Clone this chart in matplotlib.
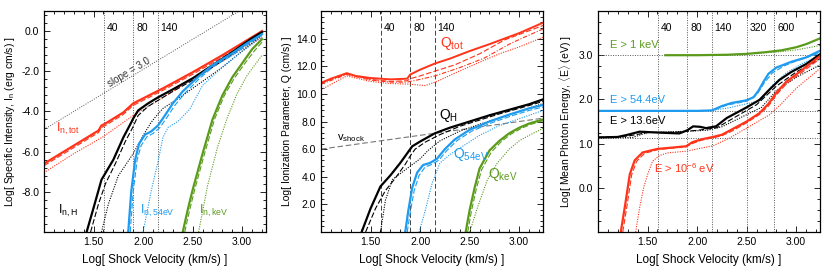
import matplotlib
matplotlib.use('Agg')
import matplotlib.pyplot as plt
from matplotlib.ticker import MultipleLocator, FixedLocator
import matplotlib.transforms as mtransforms

plt.rcParams['font.family'] = ['Liberation Sans', 'DejaVu Sans']
plt.rcParams['mathtext.fontset'] = 'custom'
plt.rcParams['mathtext.rm'] = 'Liberation Sans'
plt.rcParams['mathtext.it'] = 'Liberation Sans:italic'

RED = '#ff3319'
BLUE = '#1e9bef'
GREEN = '#5b9b1c'

# vertical markers (km/s)
mark_lbl = ['40', '80', '140']
mark_x = [1.602, 1.903, 2.146]
mark3_lbl = ['40', '80', '140', '320', '600']
mark3_x = [1.602, 1.903, 2.146, 2.505, 2.778]

# ---------------- panel 1: specific intensity
p1_tot_x = [1.0, 1.2, 1.4, 1.55, 1.58, 1.62, 1.8, 1.9, 2.0, 2.2, 2.5, 2.8, 3.0, 3.2]
p1_tot_y = [-6.6, -6.0, -5.4, -4.95, -4.7, -4.6, -4.05, -3.6, -3.35, -2.85, -2.05, -1.2, -0.6, 0.0]
p1_tot_dash_y = [-6.7, -6.1, -5.5, -5.05, -4.8, -4.7, -4.15, -3.7, -3.45, -2.95, -2.15, -1.3, -0.7, -0.05]
p1_tot_dot_x = [1.0, 1.3, 1.6, 1.9, 2.2, 2.5, 2.8, 3.0, 3.2]
p1_tot_dot_y = [-7.05, -6.1, -5.25, -4.2, -3.3, -2.4, -1.5, -0.9, -0.3]

p1_h_x = [1.43, 1.5, 1.58, 1.7, 1.8, 1.88, 1.9, 1.95, 2.05, 2.15, 2.3, 2.5, 2.7, 2.9, 3.1, 3.2]
p1_h_y = [-10, -8.8, -7.4, -6.4, -5.3, -4.55, -4.35, -3.95, -3.6, -3.3, -2.9, -2.35, -1.7, -1.05, -0.35, -0.05]
p1_h_dash_x = [1.47, 1.55, 1.62, 1.72, 1.82, 1.9, 1.95, 2.05, 2.15, 2.3, 2.5, 2.7, 2.9, 3.1, 3.2]
p1_h_dash_y = [-10, -8.6, -7.6, -6.6, -5.5, -4.75, -4.2, -3.75, -3.45, -3.0, -2.45, -1.8, -1.15, -0.45, -0.1]
p1_h_dot_x = [1.58, 1.65, 1.75, 1.9, 2.0, 2.08, 2.12, 2.2, 2.4, 2.6, 2.8, 3.0, 3.2]
p1_h_dot_y = [-10, -8.6, -7.2, -6.1, -5.2, -4.55, -4.3, -3.85, -3.2, -2.5, -1.8, -1.0, -0.2]

p1_54_x = [1.85, 1.88, 1.92, 1.96, 2.02, 2.08, 2.15, 2.22, 2.3, 2.4, 2.55, 2.7, 2.9, 3.05, 3.2]
p1_54_y = [-10, -8.0, -6.4, -5.6, -5.15, -5.0, -4.7, -4.2, -3.6, -3.0, -2.3, -1.7, -1.1, -0.6, -0.15]
p1_54_dash_x = [1.87, 1.9, 1.94, 1.98, 2.04, 2.1, 2.17, 2.24, 2.32, 2.42, 2.56, 2.7, 2.9, 3.05, 3.2]
p1_54_dash_y = [-10, -8.0, -6.4, -5.7, -5.25, -5.1, -4.8, -4.3, -3.7, -3.1, -2.4, -1.8, -1.2, -0.7, -0.2]
p1_54_dot_x = [2.0, 2.08, 2.15, 2.2, 2.25, 2.35, 2.47, 2.6, 2.8, 3.0, 3.2]
p1_54_dot_y = [-10, -8.0, -6.5, -5.3, -4.8, -4.5, -3.9, -2.7, -1.8, -1.0, -0.3]

p1_kev_x = [2.4, 2.45, 2.5, 2.55, 2.6, 2.7, 2.8, 2.9, 3.0, 3.1, 3.2]
p1_kev_y = [-10, -8.9, -7.9, -7.0, -6.1, -4.4, -3.2, -2.3, -1.6, -0.9, -0.4]
p1_kev_dash_x = [2.42, 2.47, 2.52, 2.57, 2.62, 2.72, 2.82, 2.92, 3.02, 3.12, 3.2]
p1_kev_dash_y = [-10, -8.9, -7.9, -7.0, -6.1, -4.4, -3.2, -2.35, -1.65, -1.0, -0.55]
p1_kev_dot_x = [2.56, 2.65, 2.75, 2.85, 2.95, 3.05, 3.2]
p1_kev_dot_y = [-10, -7.7, -5.8, -4.3, -3.1, -2.2, -1.2]

slope_x = [1.0, 2.97]
slope_y = [-4.9, 1.0]

# ---------------- panel 2: ionization parameter
p2_tot_x = [1.0, 1.1, 1.26, 1.35, 1.5, 1.7, 1.87, 1.9, 2.0, 2.15, 2.3, 2.5, 2.7, 2.85, 3.0, 3.24]
p2_tot_y = [10.8, 11.1, 11.5, 11.3, 11.15, 11.05, 11.1, 11.4, 11.75, 12.2, 12.55, 13.1, 13.6, 14.0, 14.4, 15.15]
p2_tot_dash_x = [1.0, 1.1, 1.26, 1.35, 1.5, 1.7, 1.87, 1.9, 2.0, 2.15, 2.35, 2.6, 2.85, 3.0, 3.24]
p2_tot_dash_y = [10.75, 11.05, 11.45, 11.3, 11.05, 10.9, 10.95, 11.1, 11.3, 11.65, 12.1, 12.9, 13.9, 14.3, 14.95]
p2_tot_dd_x = [1.0, 1.26, 1.5, 1.7, 1.87, 1.9, 2.0, 2.15, 2.4, 2.65, 2.9, 3.05, 3.24]
p2_tot_dd_y = [10.7, 11.4, 11.0, 10.85, 10.85, 10.9, 11.05, 11.3, 11.9, 12.6, 13.6, 14.1, 14.7]
p2_tot_dot_x = [1.0, 1.26, 1.5, 1.7, 1.9, 2.05, 2.17, 2.35, 2.57, 2.8, 3.0, 3.24]
p2_tot_dot_y = [10.3, 11.3, 10.9, 10.75, 10.7, 10.6, 10.9, 11.5, 12.2, 12.9, 13.4, 14.1]

p2_h_x = [1.41, 1.5, 1.6, 1.7, 1.8, 1.88, 1.92, 2.0, 2.15, 2.3, 2.5, 2.7, 2.9, 3.1, 3.24]
p2_h_y = [0, 1.7, 3.3, 4.1, 5.0, 5.8, 6.2, 6.55, 7.15, 7.55, 8.0, 8.45, 8.85, 9.25, 9.6]
p2_h_dash_x = [1.45, 1.55, 1.65, 1.75, 1.85, 1.9, 1.95, 2.05, 2.2, 2.4, 2.6, 2.8, 3.0, 3.24]
p2_h_dash_y = [0, 1.7, 3.0, 3.9, 4.9, 5.5, 6.0, 6.5, 7.05, 7.65, 8.1, 8.55, 8.95, 9.45]
p2_h_dot_x = [1.6, 1.65, 1.72, 1.85, 2.0, 2.08, 2.2, 2.4, 2.6, 2.9, 3.24]
p2_h_dot_y = [0, 2.3, 3.8, 4.5, 5.3, 5.9, 6.6, 7.3, 7.8, 8.5, 9.3]

p2_54_x = [1.85, 1.88, 1.92, 1.97, 2.03, 2.1, 2.17, 2.25, 2.35, 2.5, 2.7, 2.9, 3.1, 3.24]
p2_54_y = [0, 1.5, 3.2, 4.3, 4.85, 5.0, 5.3, 6.0, 6.7, 7.4, 8.0, 8.5, 8.95, 9.2]
p2_54_dash_x = [1.87, 1.9, 1.94, 1.99, 2.05, 2.12, 2.19, 2.27, 2.37, 2.52, 2.72, 2.92, 3.1, 3.24]
p2_54_dash_y = [0, 1.4, 3.0, 4.1, 4.7, 4.9, 5.2, 5.9, 6.6, 7.3, 7.9, 8.4, 8.8, 9.05]
p2_54_dot_x = [1.99, 2.05, 2.12, 2.2, 2.3, 2.45, 2.6, 2.8, 3.0, 3.24]
p2_54_dot_y = [0, 1.5, 3.5, 5.0, 5.6, 6.3, 7.0, 7.7, 8.2, 8.8]

p2_kev_x = [2.46, 2.5, 2.55, 2.6, 2.7, 2.8, 2.9, 3.0, 3.1, 3.24]
p2_kev_y = [0, 1.6, 3.2, 4.6, 5.9, 6.6, 7.15, 7.55, 7.85, 8.15]
p2_kev_dash_x = [2.48, 2.52, 2.57, 2.62, 2.72, 2.82, 2.92, 3.02, 3.12, 3.24]
p2_kev_dash_y = [0, 1.6, 3.2, 4.5, 5.8, 6.55, 7.1, 7.5, 7.8, 8.05]
p2_kev_dot_x = [2.5, 2.58, 2.68, 2.78, 2.9, 3.0, 3.1, 3.24]
p2_kev_dot_y = [0, 1.8, 3.8, 5.0, 6.0, 6.6, 7.0, 7.5]

vshock_x = [1.0, 3.24]
vshock_y = [6.0, 8.24]

# ---------------- panel 3: mean photon energy
p3_kev_x = [1.68, 2.0, 2.3, 2.5, 2.7, 2.85, 3.0, 3.1, 3.24]
p3_kev_y = [3.0, 3.0, 3.01, 3.03, 3.07, 3.11, 3.18, 3.25, 3.38]
p3_kev_dot_y = [3.0, 3.0, 3.01, 3.03, 3.06, 3.08, 3.12, 3.16, 3.22]

p3_54_x = [1.0, 1.5, 2.0, 2.15, 2.25, 2.35, 2.5, 2.57, 2.62, 2.67, 2.72, 2.8, 2.95, 3.1, 3.24]
p3_54_y = [1.74, 1.74, 1.74, 1.75, 1.85, 1.92, 1.98, 2.05, 2.2, 2.4, 2.58, 2.72, 2.85, 2.95, 3.1]
p3_54_dash_x = [1.0, 2.15, 2.3, 2.5, 2.6, 2.68, 2.76, 2.88, 3.0, 3.24]
p3_54_dash_y = [1.74, 1.75, 1.87, 1.96, 2.1, 2.38, 2.6, 2.76, 2.87, 3.05]
p3_54_dot_x = [1.0, 2.1, 2.3, 2.5, 2.65, 2.75, 2.9, 3.05, 3.24]
p3_54_dot_y = [1.74, 1.74, 1.8, 1.9, 1.98, 2.3, 2.6, 2.8, 3.0]

p3_h_x = [1.0, 1.2, 1.3, 1.42, 1.6, 1.82, 1.9, 1.96, 2.03, 2.09, 2.19, 2.3, 2.4, 2.5, 2.63, 2.72, 2.83, 2.95, 3.1, 3.24]
p3_h_y = [1.14, 1.15, 1.2, 1.27, 1.25, 1.23, 1.3, 1.39, 1.38, 1.35, 1.39, 1.58, 1.7, 1.82, 1.99, 2.2, 2.44, 2.62, 2.8, 3.02]
p3_h_dash_x = [1.0, 1.3, 1.5, 1.8, 2.0, 2.2, 2.4, 2.6, 2.8, 3.0, 3.24]
p3_h_dash_y = [1.14, 1.17, 1.25, 1.26, 1.3, 1.36, 1.62, 1.88, 2.3, 2.62, 2.92]
p3_h_dot_x = [1.0, 1.35, 1.5, 1.9, 2.1, 2.25, 2.45, 2.65, 2.8, 3.0, 3.24]
p3_h_dot_y = [1.13, 1.14, 1.25, 1.28, 1.3, 1.38, 1.6, 1.82, 2.2, 2.5, 2.78]

p3_all_x = [1.23, 1.28, 1.32, 1.37, 1.45, 1.6, 1.75, 1.89, 1.95, 2.05, 2.16, 2.25, 2.35, 2.5, 2.63, 2.72, 2.8, 2.9, 3.05, 3.24]
p3_all_y = [-1.0, -0.3, 0.3, 0.62, 0.8, 0.88, 0.91, 0.94, 1.03, 1.1, 1.15, 1.2, 1.32, 1.5, 1.69, 1.9, 2.15, 2.4, 2.65, 2.98]
p3_all_dash_x = [1.25, 1.3, 1.34, 1.39, 1.47, 1.6, 1.75, 1.89, 1.95, 2.05, 2.16, 2.25, 2.35, 2.5, 2.63, 2.72, 2.8, 2.9, 3.05, 3.24]
p3_all_dash_y = [-1.0, -0.3, 0.3, 0.6, 0.78, 0.86, 0.9, 0.93, 1.0, 1.08, 1.13, 1.18, 1.28, 1.47, 1.66, 1.85, 2.1, 2.35, 2.6, 2.92]
p3_all_dot_x = [1.38, 1.42, 1.46, 1.5, 1.55, 1.62, 1.7, 1.9, 2.0, 2.16, 2.33, 2.56, 2.73, 2.85, 3.0, 3.24]
p3_all_dot_y = [-1.0, -0.45, 0.0, 0.3, 0.6, 0.73, 0.79, 0.83, 0.88, 0.95, 1.13, 1.43, 1.65, 1.9, 2.25, 2.7]

hlines3 = [3.0, 1.7356, 1.1335]

fig = plt.figure(figsize=(8.3, 2.77), dpi=100)
ax1 = fig.add_axes([44/830, 45/277, 222/830, 221/277])
ax2 = fig.add_axes([321/830, 45/277, 222/830, 221/277])
ax3 = fig.add_axes([598/830, 45/277, 222/830, 221/277])

def style(ax, ymin):
    ax.set_xlim(1.0, 3.24)
    ax.xaxis.set_major_locator(FixedLocator([1.5, 2.0, 2.5, 3.0]))
    ax.xaxis.set_minor_locator(MultipleLocator(0.1))
    ax.set_xticklabels(['1.50', '2.00', '2.50', '3.00'])
    ax.yaxis.set_minor_locator(MultipleLocator(ymin))
    ax.tick_params(which='both', direction='in', top=True, right=True, labelsize=7.5, width=0.6)
    ax.tick_params(which='major', length=4)
    ax.tick_params(which='minor', length=2)
    ax.set_xlabel('Log[ Shock Velocity (km/s) ]', fontsize=8.5, labelpad=5)
    for s in ax.spines.values():
        s.set_linewidth(0.9)

def family(ax, color, sx, sy, dx, dy, ox, oy):
    ax.plot(sx, sy, color=color, lw=1.6, solid_joinstyle='round')
    ax.plot(dx, dy, color=color, lw=0.8, ls=(0, (5, 2)))
    ax.plot(ox, oy, color=color, lw=0.8, ls=(0, (1, 1.2)))

# panel 1
style(ax1, 0.4)
ax1.set_ylim(-10, 1.0)
ax1.set_yticks([0, -2, -4, -6, -8])
ax1.set_yticklabels(['0.0', '-2.0', '-4.0', '-6.0', '-8.0'])
trans1 = mtransforms.blended_transform_factory(ax1.transData, ax1.transAxes)
for xv, lb in zip(mark_x, mark_lbl):
    ax1.axvline(xv, color='#555555', lw=0.7, ls=(0, (1, 1.5)))
    ax1.text(xv + 0.03, 0.925, lb, transform=trans1, fontsize=7.5, ha='left', va='center')
ax1.plot(slope_x, slope_y, color='#555555', lw=0.7, ls=(0, (1, 1.5)))
ax1.text(1.86, -2.05, 'slope = 3.0', rotation=31, fontsize=7, color='#333333', ha='center', va='center')
family(ax1, RED, p1_tot_x, p1_tot_y, p1_tot_x, p1_tot_dash_y, p1_tot_dot_x, p1_tot_dot_y)
family(ax1, 'black', p1_h_x, p1_h_y, p1_h_dash_x, p1_h_dash_y, p1_h_dot_x, p1_h_dot_y)
family(ax1, BLUE, p1_54_x, p1_54_y, p1_54_dash_x, p1_54_dash_y, p1_54_dot_x, p1_54_dot_y)
family(ax1, GREEN, p1_kev_x, p1_kev_y, p1_kev_dash_x, p1_kev_dash_y, p1_kev_dot_x, p1_kev_dot_y)
ax1.text(1.12, -4.85, r'I$_{\rm n,tot}$', color=RED, fontsize=9, va='center')
ax1.text(1.14, -8.95, r'I$_{\rm n,H}$', color='black', fontsize=9, va='center')
ax1.text(1.97, -8.95, r'I$_{\rm n,54eV}$', color=BLUE, fontsize=9, va='center')
ax1.text(2.56, -8.95, r'I$_{\rm n,keV}$', color=GREEN, fontsize=9, va='center')
ax1.set_ylabel(r'Log[ Specific Intensity, I$_{\rm n}$ (erg cm/s) ]', fontsize=7.5, labelpad=3)

# panel 2
style(ax2, 0.4)
ax2.set_ylim(0, 16)
ax2.set_yticks([2, 4, 6, 8, 10, 12, 14])
ax2.set_yticklabels(['2.0', '4.0', '6.0', '8.0', '10.0', '12.0', '14.0'])
trans2 = mtransforms.blended_transform_factory(ax2.transData, ax2.transAxes)
for xv, lb in zip(mark_x, mark_lbl):
    ax2.axvline(xv, color='#444444', lw=0.7, ls=(0, (5, 2.5)))
    ax2.text(xv + 0.03, 0.925, lb, transform=trans2, fontsize=7.5, ha='left', va='center')
ax2.plot(vshock_x, vshock_y, color='#777777', lw=0.8, ls=(0, (5, 2.5)))
ax2.text(1.16, 6.8, r'v$_{\rm shock}$', fontsize=8, ha='left', va='center')
ax2.plot(p2_tot_x, p2_tot_y, color=RED, lw=1.4)
ax2.plot(p2_tot_dash_x, p2_tot_dash_y, color=RED, lw=0.8, ls=(0, (5, 2)))
ax2.plot(p2_tot_dd_x, p2_tot_dd_y, color=RED, lw=0.8, ls=(0, (4, 1.5, 1, 1.5)))
ax2.plot(p2_tot_dot_x, p2_tot_dot_y, color=RED, lw=0.8, ls=(0, (1, 1.2)))
family(ax2, 'black', p2_h_x, p2_h_y, p2_h_dash_x, p2_h_dash_y, p2_h_dot_x, p2_h_dot_y)
family(ax2, BLUE, p2_54_x, p2_54_y, p2_54_dash_x, p2_54_dash_y, p2_54_dot_x, p2_54_dot_y)
family(ax2, GREEN, p2_kev_x, p2_kev_y, p2_kev_dash_x, p2_kev_dash_y, p2_kev_dot_x, p2_kev_dot_y)
ax2.text(2.2, 13.65, r'Q$_{\rm tot}$', color=RED, fontsize=10, va='center')
ax2.text(2.19, 8.4, r'Q$_{\rm H}$', color='black', fontsize=10, va='center')
ax2.text(2.33, 5.6, r'Q$_{\rm 54eV}$', color=BLUE, fontsize=10, va='center')
ax2.text(2.69, 4.15, r'Q$_{\rm keV}$', color=GREEN, fontsize=10, va='center')
ax2.set_ylabel('Log[ Ionization Parameter, Q (cm/s) ]', fontsize=7.5, labelpad=3)

# panel 3
style(ax3, 0.25)
ax3.set_ylim(-1, 4)
ax3.set_yticks([0, 1, 2, 3])
ax3.set_yticklabels(['0.0', '1.0', '2.0', '3.0'])
trans3 = mtransforms.blended_transform_factory(ax3.transData, ax3.transAxes)
for xv, lb in zip(mark3_x, mark3_lbl):
    ax3.axvline(xv, color='#555555', lw=0.7, ls=(0, (1, 1.5)))
    ax3.text(xv + 0.03, 0.925, lb, transform=trans3, fontsize=7.5, ha='left', va='center')
for yv in hlines3:
    ax3.axhline(yv, color='#555555', lw=0.7, ls=(0, (1, 1.5)))
ax3.plot(p3_kev_x, p3_kev_y, color=GREEN, lw=1.6)
ax3.plot(p3_kev_x, p3_kev_dot_y, color=GREEN, lw=0.8, ls=(0, (1, 1.2)))
family(ax3, BLUE, p3_54_x, p3_54_y, p3_54_dash_x, p3_54_dash_y, p3_54_dot_x, p3_54_dot_y)
family(ax3, 'black', p3_h_x, p3_h_y, p3_h_dash_x, p3_h_dash_y, p3_h_dot_x, p3_h_dot_y)
family(ax3, RED, p3_all_x, p3_all_y, p3_all_dash_x, p3_all_dash_y, p3_all_dot_x, p3_all_dot_y)
ax3.text(1.12, 3.23, 'E > 1 keV', color=GREEN, fontsize=8, va='center')
ax3.text(1.12, 1.99, 'E > 54.4eV', color=BLUE, fontsize=8, va='center')
ax3.text(1.12, 1.5, 'E > 13.6eV', color='black', fontsize=8, va='center')
ax3.text(1.57, 0.45, r'E > 10$^{-6}$ eV', color=RED, fontsize=8, va='center')
ax3.set_ylabel(r'Log[ Mean Photon Energy, $\langle$E$\rangle$ (eV) ]', fontsize=7.5, labelpad=3)

fig.savefig('out.png', dpi=100)
